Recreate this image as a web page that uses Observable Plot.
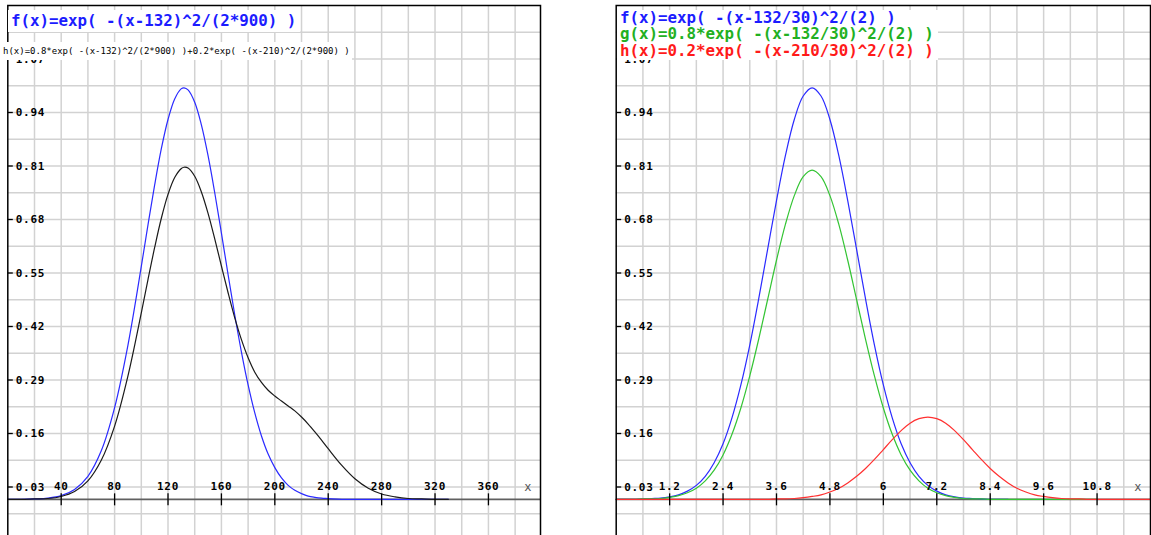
<!DOCTYPE html>
<html><head><meta charset="utf-8">
<script src="https://cdn.jsdelivr.net/npm/d3@7"></script>
<script src="https://cdn.jsdelivr.net/npm/@observablehq/plot@0.6"></script>
<style>
body{margin:0;background:#fff;width:1151px;height:535px;overflow:hidden;position:relative}
.panel{position:absolute;top:0}
.lbl{position:absolute;background:#fff;white-space:pre;font-family:"DejaVu Sans Mono",monospace;font-weight:bold}
</style></head><body>
<div id="left" class="panel" style="left:0"></div>
<div id="right" class="panel" style="left:575px"></div>
<div class="lbl" style="left:8px;top:9.5px;height:22px;line-height:22px;font-size:15.8px;padding:0 4px 0 3px;color:#1c1cff">f(x)=exp( -(x-132)^2/(2*900) )</div>
<div class="lbl" style="left:2px;top:42px;height:18px;line-height:18px;font-size:9px;font-weight:normal;padding:0 2px 0 1px;color:#000">h(x)=0.8*exp( -(x-132)^2/(2*900) )+0.2*exp( -(x-210)^2/(2*900) )</div>
<div class="lbl" style="left:617px;top:9.7px;width:318px;line-height:16.6px;font-size:15.8px;padding:0 0 1px 3px"><span style="color:#1c1cff">f(x)=exp( -(x-132/30)^2/(2) )</span>
<span style="color:#22b022">g(x)=0.8*exp( -(x-132/30)^2/(2) )</span>
<span style="color:#ff1a1a">h(x)=0.2*exp( -(x-210/30)^2/(2) )</span></div>
<script>
// ---- data ----
const leftX = [0,10,20,30,40,50,60,70,80,90,100,105,110,115,120,125,130,132,135,140,145,150,155,160,165,170,175,180,185,190,195,200,205,210,215,220,225,230,235,240,250,260,270,280,290,300,310,320,330];
const leftF = [0,0,0.001,0.003,0.009,0.024,0.056,0.118,0.223,0.375,0.566,0.667,0.764,0.852,0.923,0.973,0.998,1.000,0.995,0.965,0.910,0.835,0.745,0.647,0.546,0.448,0.358,0.278,0.210,0.154,0.110,0.077,0.052,0.034,0.022,0.014,0.008,0.005,0.003,0.002,0,0,0,0,0,0,0,0,0];
const leftH = [0,0,0.001,0.002,0.007,0.019,0.045,0.095,0.178,0.300,0.453,0.534,0.612,0.683,0.741,0.782,0.804,0.807,0.805,0.785,0.747,0.695,0.633,0.567,0.502,0.441,0.388,0.344,0.309,0.284,0.265,0.251,0.239,0.227,0.215,0.200,0.183,0.164,0.144,0.123,0.083,0.050,0.027,0.013,0.006,0.002,0.001,0,0];

const rightX = [0,0.2,0.4,0.6,0.8,1.0,1.2,1.4,1.6,1.8,2.0,2.2,2.4,2.6,2.8,3.0,3.2,3.4,3.6,3.8,4.0,4.2,4.4,4.6,4.8,5.0,5.2,5.4,5.6,5.8,6.0,6.2,6.4,6.6,6.8,7.0,7.2,7.4,7.6,7.8,8.0,8.2,8.4,8.6,8.8];
const rightF = [0,0,0,0.001,0.002,0.003,0.006,0.011,0.020,0.034,0.056,0.089,0.135,0.198,0.278,0.375,0.487,0.607,0.726,0.835,0.923,0.980,1.000,0.980,0.923,0.835,0.726,0.607,0.487,0.375,0.278,0.198,0.135,0.089,0.056,0.034,0.020,0.011,0.006,0.003,0.002,0.001,0,0,0];
const rightGX = [0,0.2,0.4,0.6,0.8,1.0,1.2,1.4,1.6,1.8,2.0,2.2,2.4,2.6,2.8,3.0,3.2,3.4,3.6,3.8,4.0,4.2,4.4,4.6,4.8,5.0,5.2,5.4,5.6,5.8,6.0,6.2,6.4,6.6,6.8,7.0,7.2,7.4,7.6,7.8,8.0,8.2,8.4,8.6,8.8,9.2,9.6,10.0,10.4,10.8];
const rightG = [0,0,0,0.001,0.001,0.002,0.005,0.009,0.016,0.027,0.045,0.071,0.108,0.158,0.222,0.300,0.389,0.485,0.581,0.668,0.738,0.784,0.800,0.784,0.738,0.668,0.581,0.485,0.389,0.300,0.222,0.158,0.108,0.071,0.045,0.027,0.016,0.009,0.005,0.002,0.001,0.001,0,0,0,0,0,0,0,0];
const rightHX = [0,3.0,3.2,3.4,3.6,3.8,4.0,4.2,4.4,4.6,4.8,5.0,5.2,5.4,5.6,5.8,6.0,6.2,6.4,6.6,6.8,7.0,7.2,7.4,7.6,7.8,8.0,8.2,8.4,8.6,8.8,9.0,9.2,9.4,9.6,9.8,10.0,10.2,10.4,10.6,10.8,11.0,12.0];
const rightH = [0,0,0,0,0.001,0.001,0.002,0.004,0.007,0.011,0.018,0.027,0.040,0.056,0.075,0.097,0.121,0.145,0.167,0.185,0.196,0.200,0.196,0.185,0.167,0.145,0.121,0.097,0.075,0.056,0.040,0.027,0.018,0.011,0.007,0.004,0.002,0.001,0.001,0,0,0,0];

const yTicks = [0.03,0.16,0.29,0.42,0.55,0.68,0.81,0.94,1.07];
const yTickLabels = ["0.03","0.16","0.29","0.42","0.55","0.68","0.81","0.94","1.07"];
const leftXTicks = [40,80,120,160,200,240,280,320,360];
const leftXTickLabels = ["40","80","120","160","200","240","280","320","360"];
const rightXTicks = [1.2,2.4,3.6,4.8,6,7.2,8.4,9.6,10.8];
const rightXTickLabels = ["1.2","2.4","3.6","4.8","6","7.2","8.4","9.6","10.8"];

// ---- helpers ----
const zip = (xs, ys) => xs.map((x, i) => ({x, y: ys[i]}));
const vtick = {draw(ctx){ctx.moveTo(0,-6);ctx.lineTo(0,6);}};
const htick = {draw(ctx){ctx.moveTo(0,0);ctx.lineTo(5,0);}};
const gridY = d3.range(-0.035, 1.19, 0.065);
const font = "DejaVu Sans Mono";

function panel({width, ml, mr, xmax, gridX, xt, xtl, series}) {
  const marks = [
    Plot.ruleX(gridX, {stroke: "#d2d2d2", strokeWidth: 1.5}),
    Plot.ruleY(gridY, {stroke: "#d2d2d2", strokeWidth: 1.5}),
    Plot.ruleY([0], {stroke: "#606060", strokeWidth: 1.6}),
    ...series.map(s => Plot.line(s.data, {x: "x", y: "y", stroke: s.color, strokeWidth: 1.2, curve: "catmull-rom"})),
    Plot.dot(xt, {x: d => d, y: 0, symbol: vtick, fill: "none", stroke: "#000", strokeWidth: 1.3}),
    Plot.dot(yTicks, {x: 0, y: d => d, symbol: htick, fill: "none", stroke: "#000", strokeWidth: 1.3}),
    Plot.text(xt, {x: d => d, y: 0, dy: -13, text: (d, i) => xtl[i], fontFamily: font, fontWeight: "bold", fontSize: 11, fill: "#000"}),
    Plot.text(yTicks, {x: 0, y: d => d, dx: 8, textAnchor: "start", text: (d, i) => yTickLabels[i], fontFamily: font, fontWeight: "bold", fontSize: 11, fill: "#000"}),
    Plot.text(["x"], {frameAnchor: "right", y: 0, dx: -9, dy: -12, text: d => d, fontFamily: font, fontSize: 12, fill: "#555"}),
    Plot.frame({stroke: "#000", strokeWidth: 1.5})
  ];
  const svg = Plot.plot({
    width, height: 540,
    marginTop: 5, marginBottom: 0, marginLeft: ml, marginRight: mr,
    x: {domain: [0, xmax], axis: null},
    y: {domain: [-0.1, 1.2], axis: null},
    style: {background: "transparent"},
    marks
  });
  svg.querySelectorAll("text").forEach(t => { if (t.textContent !== "x") t.setAttribute("letter-spacing", "0.7"); });
  return svg;
}

document.getElementById("left").appendChild(panel({
  width: 575, ml: 7.3, mr: 35, xmax: 399,
  gridX: d3.range(20, 399, 20),
  xt: leftXTicks, xtl: leftXTickLabels,
  series: [
    {data: zip(leftX, leftF), color: "#2a2aff"},
    {data: zip(leftX, leftH), color: "#1a1a1a"}
  ]
}));
document.getElementById("right").appendChild(panel({
  width: 576, ml: 40.7, mr: 1, xmax: 12,
  gridX: d3.range(0.6, 11.9, 0.6),
  xt: rightXTicks, xtl: rightXTickLabels,
  series: [
    {data: zip(rightX, rightF), color: "#2a2aff"},
    {data: zip(rightGX, rightG), color: "#33c433"},
    {data: zip(rightHX, rightH), color: "#ff3030"}
  ]
}));
</script>
</body></html>
